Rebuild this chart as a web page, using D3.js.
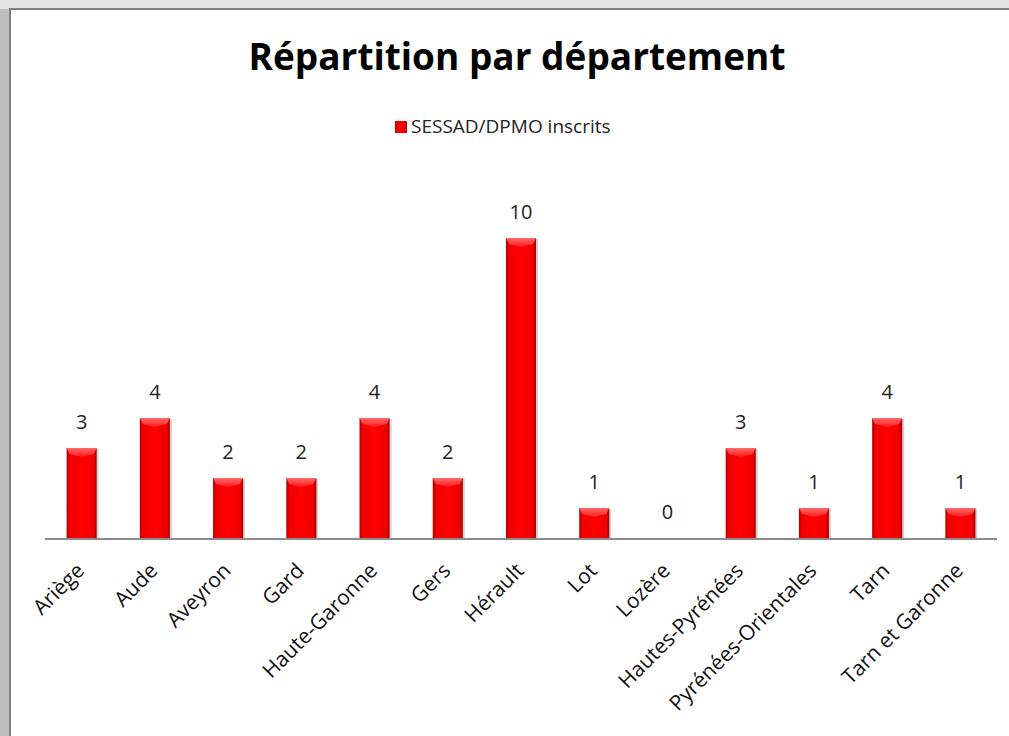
<!DOCTYPE html>
<html>
<head>
<meta charset="utf-8">
<script src="https://cdn.jsdelivr.net/npm/d3@7"></script>
<style>
  body { margin: 0; background: #d9d9d9; }
  svg { display: block; }
  .title { font-family: "Open Sans", "Noto Sans", sans-serif; font-weight: bold; font-size: 37px; fill: #000; }
  .legend-text, .val, .xlab { font-family: "Open Sans", "Noto Sans", sans-serif; fill: #000; }
  .legend-text { font-size: 19px; fill: #222; }
  .val { font-size: 20px; fill: #222; }
  .xlab { font-size: 21px; fill: #111; }
</style>
</head>
<body>
<svg id="canvas" width="1009" height="736"></svg>
<script>
// chart data
const departements = ["Ariège", "Aude", "Aveyron", "Gard", "Haute-Garonne", "Gers", "Hérault",
    "Lot", "Lozère", "Hautes-Pyrénées", "Pyrénées-Orientales", "Tarn", "Tarn et Garonne"];
const inscrits = [3, 4, 2, 2, 4, 2, 10, 1, 0, 3, 1, 4, 1];
const seriesName = "SESSAD/DPMO inscrits";
const chartTitle = "Répartition par département";

const svg = d3.select("#canvas");
const defs = svg.append("defs");

/**
 * Adds a linear gradient with the given stops to the defs.
 */
function addGradient(id, vertical, stops) {
    const g = defs.append("linearGradient").attr("id", id)
        .attr("x1", 0).attr("y1", 0)
        .attr("x2", vertical ? 0 : 1).attr("y2", vertical ? 1 : 0);
    stops.forEach(s => g.append("stop").attr("offset", s[0]).attr("stop-color", s[1]));
}

addGradient("bg", false, [["0%", "#bdbdbd"], ["100%", "#e6e6e6"]]);
addGradient("barGrad", false, [["0%", "#b00000"], ["10%", "#f00000"], ["50%", "#ff0000"], ["90%", "#f00000"], ["100%", "#a00000"]]);
addGradient("topGrad", true, [["0%", "#ff6a6a"], ["100%", "#ff1a1a"]]);

// background frame
svg.append("rect").attr("width", 1009).attr("height", 736).attr("fill", "url(#bg)");
svg.append("rect").attr("x", 0).attr("y", 0).attr("width", 1009).attr("height", 9).attr("fill", "#e4e4e4");
svg.append("rect").attr("x", 10).attr("y", 9).attr("width", 1010).attr("height", 740)
    .attr("fill", "#fff").attr("stroke", "#7f7f7f").attr("stroke-width", 2);

// title & legend
svg.append("text").attr("class", "title").attr("x", 517).attr("y", 70)
    .attr("text-anchor", "middle").text(chartTitle);
svg.append("rect").attr("x", 395).attr("y", 121).attr("width", 12).attr("height", 12).attr("fill", "url(#barGrad)");
svg.append("text").attr("class", "legend-text").attr("x", 411).attr("y", 133).text(seriesName);

// scales
const x = d3.scaleBand().domain(departements).range([45, 997]).paddingInner(0.59).paddingOuter(0.295);
const y = d3.scaleLinear().domain([0, 10]).range([538, 238]);

// shadows
svg.append("g").selectAll("rect").data(inscrits).enter().append("rect")
    .attr("x", (d, i) => x(departements[i]) + 2)
    .attr("y", d => y(d) + 1)
    .attr("width", x.bandwidth())
    .attr("height", d => y(0) - y(d))
    .attr("fill", "#000").attr("opacity", 0.18);

// bars
const bars = svg.append("g");
bars.selectAll(".bar").data(inscrits).enter().append("rect")
    .attr("class", "bar")
    .attr("x", (d, i) => x(departements[i]))
    .attr("y", d => y(d))
    .attr("width", x.bandwidth())
    .attr("height", d => y(0) - y(d))
    .attr("fill", "url(#barGrad)");

// top bevel highlight
inscrits.forEach((d, i) => {
    if (d <= 0) return;
    const x0 = x(departements[i]), w = x.bandwidth(), t = y(d), b = 6;
    bars.append("path")
        .attr("d", `M${x0},${t}L${x0 + w},${t}L${x0 + w - 3},${t + b}L${x0 + w / 2},${t + b + 3}L${x0 + 3},${t + b}Z`)
        .attr("fill", "url(#topGrad)");
});

// value labels
svg.append("g").selectAll("text").data(inscrits).enter().append("text")
    .attr("class", "val")
    .attr("x", (d, i) => x(departements[i]) + x.bandwidth() / 2)
    .attr("y", d => y(d) - 19)
    .attr("text-anchor", "middle")
    .text(d => d);

// axis line
svg.append("line").attr("x1", 45).attr("x2", 997).attr("y1", y(0) + 1).attr("y2", y(0) + 1)
    .attr("stroke", "#8c8c8c").attr("stroke-width", 2);

// category labels
svg.append("g").selectAll("text").data(departements).enter().append("text")
    .attr("class", "xlab")
    .attr("text-anchor", "end")
    .attr("transform", d => `translate(${x(d) + x.bandwidth() / 2 + 4},${y(0) + 34}) rotate(-45)`)
    .text(d => d);
</script>
</body>
</html>
